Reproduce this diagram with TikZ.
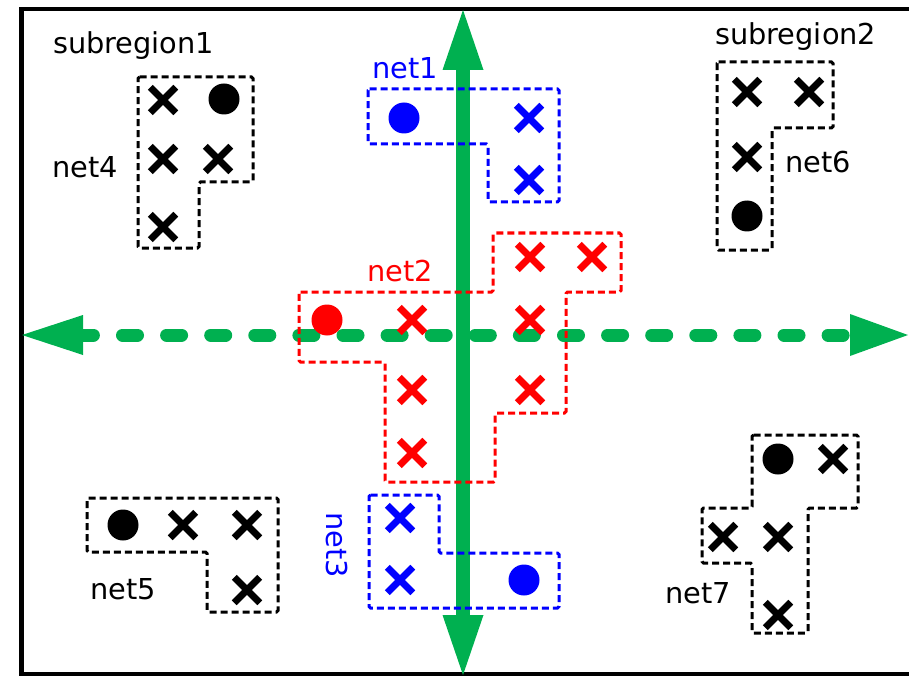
\documentclass[tikz,border=0pt]{standalone}
\usepackage{fontspec}
\setmainfont{DejaVu Sans}
\usetikzlibrary{shapes.misc}
\definecolor{axisgreen}{RGB}{0,176,80}
\definecolor{netblue}{RGB}{0,0,255}
\definecolor{netred}{RGB}{255,0,0}

\begin{document}
\begin{tikzpicture}[x=1pt,y=-1pt,
  lbl/.style={font=\fontsize{28.8}{32}\selectfont, inner sep=0pt, anchor=base west},
  netbox/.style={line width=3pt, dash pattern=on 7pt off 4pt, rounded corners=1.5pt},
  pin/.style={cross out, draw, minimum size=18.5pt, inner sep=0pt, line width=7pt},
  drv/.style={circle, fill, minimum size=31pt, inner sep=0pt},
  cutline/.style={axisgreen, line width=13pt, line cap=round, dash pattern=on 15pt off 29.1pt, dash phase=4.6pt},
  spine/.style={axisgreen, line width=14.5pt}
]
\useasboundingbox (0,0) rectangle (909,676);

% outer region frame (open on the right)
\coordinate (frTR) at (920,9);
\coordinate (frTL) at (21.5,9);
\coordinate (frBL) at (21.5,674);
\coordinate (frBR) at (920,674);
\draw[line width=4.5pt] (frTR) -- (frTL) -- (frBL) -- (frBR);

% vertical cut line with heads at both ends
\coordinate (vtipT) at (463,10);
\coordinate (vbaseT) at (463,70);
\coordinate (vbaseB) at (463,615);
\coordinate (vtipB) at (463,675);
\draw[spine] (vbaseT) -- (vbaseB);
\fill[axisgreen] (vtipT) -- ([xshift=-20.5pt]vbaseT) -- ([xshift=20.5pt]vbaseT) -- cycle;
\fill[axisgreen] (vtipB) -- ([xshift=-20.5pt]vbaseB) -- ([xshift=20.5pt]vbaseB) -- cycle;

% horizontal dashed cut line with heads at both ends
\coordinate (htipL) at (22,335);
\coordinate (hbaseL) at (83,335);
\coordinate (hbaseR) at (850,335);
\coordinate (htipR) at (908,335);
\draw[cutline] (hbaseL) -- (hbaseR);
\fill[axisgreen] (htipL) -- ([yshift=-20pt]hbaseL) -- ([yshift=20pt]hbaseL) -- cycle;
\fill[axisgreen] (htipR) -- ([yshift=-21pt]hbaseR) -- ([yshift=21pt]hbaseR) -- cycle;

% subregion labels
\node[lbl] (sub1) at (53,54) {subregion1};
\node[lbl] (sub2) at (715,45) {subregion2};

% net1
\begin{scope}[netblue]
\draw[netbox] (368,89) -- (559,89) -- (559,202) -- (488,202) -- (488,144) -- (368,144) -- cycle;
\node[drv] (n1d) at (404,118) {};
\node[pin] (n1a) at (529,118) {};
\node[pin] (n1b) at (529,180) {};
\node[lbl, text=netblue] (n1l) at (372,79) {net1};
\end{scope}

% net2
\begin{scope}[netred]
\draw[netbox] (299,292) -- (493,292) -- (493,233) -- (621,233) -- (621,292) -- (566,292)
  -- (566,413) -- (495,413) -- (495,482) -- (385,482) -- (385,362) -- (299,362) -- cycle;
\node[drv] (n2d) at (327,320) {};
\node[pin] (n2a) at (412,320) {};
\node[pin] (n2b) at (530,320) {};
\node[pin] (n2c) at (530,257) {};
\node[pin] (n2e) at (592,257) {};
\node[pin] (n2f) at (412,390) {};
\node[pin] (n2g) at (530,390) {};
\node[pin] (n2h) at (412,453) {};
\node[lbl, text=netred] (n2l) at (367,281) {net2};
\end{scope}

% net3
\begin{scope}[netblue]
\draw[netbox] (369,495) -- (439,495) -- (439,553) -- (559,553) -- (559,608) -- (369,608) -- cycle;
\node[pin] (n3a) at (400,518) {};
\node[pin] (n3b) at (400,580) {};
\node[drv] (n3d) at (524,580) {};
\node[lbl, anchor=center, rotate=-90, text=netblue] (n3l) at (337,545) {net3};
\end{scope}

% net4
\draw[netbox] (138,77) -- (253,77) -- (253,182) -- (199,182) -- (199,248) -- (138,248) -- cycle;
\node[pin] (n4a) at (163,100) {};
\node[pin] (n4b) at (163,159) {};
\node[pin] (n4c) at (218,159) {};
\node[pin] (n4e) at (163,227) {};
\node[drv] (n4d) at (224,99) {};
\node[lbl] (n4l) at (52,178) {net4};

% net5
\draw[netbox] (87,498) -- (278,498) -- (278,612) -- (207,612) -- (207,552) -- (87,552) -- cycle;
\node[drv] (n5d) at (123,525) {};
\node[pin] (n5a) at (183,525) {};
\node[pin] (n5b) at (247,525) {};
\node[pin] (n5c) at (247,590) {};
\node[lbl] (n5l) at (90,599) {net5};

% net6
\draw[netbox] (717,62) -- (833,62) -- (833,128) -- (772,128) -- (772,250) -- (717,250) -- cycle;
\node[pin] (n6a) at (747,92) {};
\node[pin] (n6b) at (809,92) {};
\node[pin] (n6c) at (747,157) {};
\node[drv] (n6d) at (747,216) {};
\node[lbl] (n6l) at (785,173) {net6};

% net7
\draw[netbox] (752,435) -- (858,435) -- (858,508) -- (808,508) -- (808,633) -- (752,633)
  -- (752,563) -- (702,563) -- (702,508) -- (752,508) -- cycle;
\node[drv] (n7d) at (778,459) {};
\node[pin] (n7a) at (833,459) {};
\node[pin] (n7b) at (723,537) {};
\node[pin] (n7c) at (778,537) {};
\node[pin] (n7e) at (778,615) {};
\node[lbl] (n7l) at (665,603) {net7};

\end{tikzpicture}
\end{document}
